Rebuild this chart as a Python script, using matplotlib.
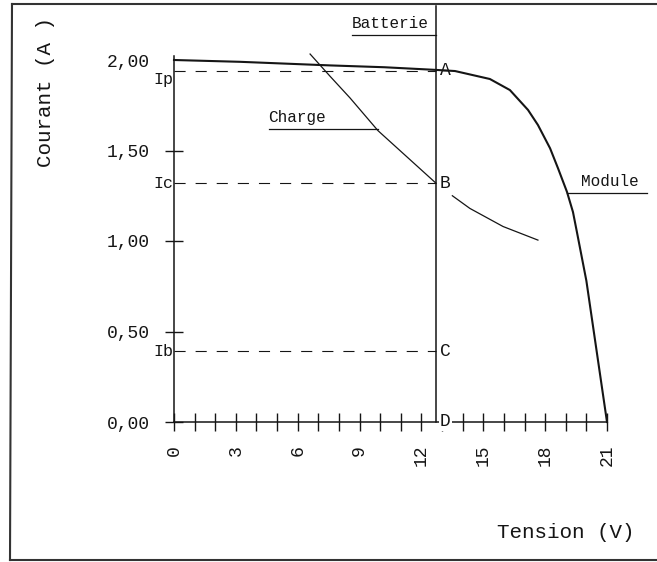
import matplotlib
matplotlib.use("Agg")
import matplotlib.pyplot as plt
from matplotlib.ticker import FuncFormatter, FixedLocator

# ---------------- data ----------------
module_v = [0.0, 3.2, 7.6, 10.2, 12.75, 13.63, 15.32, 16.29, 17.17, 17.65, 18.24, 18.62,
            19.06, 19.35, 19.54, 20.0, 21.0]
module_i = [2.00, 1.99, 1.97, 1.96, 1.945, 1.939, 1.895, 1.834, 1.724, 1.641, 1.512, 1.403,
            1.271, 1.160, 1.050, 0.78, 0.0]

charge1_v = [6.6, 7.57, 8.54, 9.89, 12.7]
charge1_i = [2.033, 1.91, 1.79, 1.61, 1.32]
charge2_v = [13.5, 14.35, 15.96, 17.65]
charge2_i = [1.25, 1.18, 1.08, 1.005]

v_batt = 12.7
levels = {"Ip": 1.94, "Ic": 1.32, "Ib": 0.39}
points = {"A": 1.94, "B": 1.32, "C": 0.39, "D": 0.0}

x_ticks_major = [0, 3, 6, 9, 12, 15, 18, 21]
x_ticks_minor = list(range(0, 22))
y_ticks = [0.0, 0.5, 1.0, 1.5, 2.0]

# ---------------- layout (pixel anchors) ----------------
W, H = 657, 562
X0PX, X21PX = 174, 607
Y0PX, Y2PX = 422, 60
sx = (X21PX - X0PX) / 21.0
sy = (Y0PX - Y2PX) / 2.0

FONT = "Liberation Mono"
plt.rcParams["font.family"] = [FONT, "DejaVu Sans Mono"]

fig = plt.figure(figsize=(W / 100, H / 100), dpi=100)
ax = fig.add_axes([0, 0, 1, 1])
ax.set_xlim(-X0PX / sx, (W - X0PX) / sx)
ax.set_ylim((Y0PX - H) / sy, Y0PX / sy)
ax.patch.set_alpha(0)

ink = "#151515"

for s in ["top", "right"]:
    ax.spines[s].set_visible(False)
ax.spines["left"].set_position(("data", 0))
ax.spines["bottom"].set_position(("data", 0))
ax.spines["left"].set_bounds(0, 2.02)
ax.spines["bottom"].set_bounds(0, 21)
for s in ["left", "bottom"]:
    ax.spines[s].set_linewidth(1.1)
    ax.spines[s].set_color(ink)

ax.xaxis.set_major_locator(FixedLocator(x_ticks_major))
ax.xaxis.set_minor_locator(FixedLocator(x_ticks_minor))
ax.xaxis.set_major_formatter(FuncFormatter(lambda v, p: f"{int(round(v))}"))
ax.yaxis.set_major_locator(FixedLocator(y_ticks))
ax.yaxis.set_minor_locator(FixedLocator([]))
ax.yaxis.set_major_formatter(FuncFormatter(lambda v, p: f"{v:.2f}".replace(".", ",")))

ax.tick_params(axis="x", which="both", direction="inout", length=13, width=1.0,
               color=ink, labelsize=13, pad=10, labelrotation=90)
ax.tick_params(axis="y", which="both", direction="inout", length=13, width=1.0,
               color=ink, labelsize=13, pad=11)
ax.yaxis.get_major_ticks()[-1].tick1line.set_visible(False)
for lab in ax.get_xticklabels() + ax.get_yticklabels():
    lab.set_color(ink)

# curves
ax.plot(module_v, module_i, color=ink, lw=1.5, solid_joinstyle="round")
ax.plot(charge1_v, charge1_i, color=ink, lw=0.9)
ax.plot(charge2_v, charge2_i, color=ink, lw=0.9)

# battery vertical line
ax.plot([v_batt, v_batt], [0, (Y0PX - 6) / sy], color=ink, lw=1.1)

# dashed levels
dash = (0, (10, 9))
for name, val in levels.items():
    ax.plot([0, v_batt], [val, val], color=ink, lw=0.8, linestyle=dash)
    yoff = -0.05 if name == "Ip" else 0.0
    ax.text(-0.05, val + yoff, name, ha="right", va="center", fontsize=12, color=ink)

for name, val in points.items():
    ax.text(v_batt + 0.2, val, name, ha="left", va="center", fontsize=13, color=ink,
            bbox=dict(boxstyle="square,pad=0.05", fc="white", ec="none") if name == "D" else None)

def px2x(px):
    return (px - X0PX) / sx

def py2y(py):
    return (Y0PX - py) / sy

# Batterie
ax.plot([px2x(352), v_batt], [py2y(35)] * 2, color=ink, lw=0.9)
ax.text(px2x(390), py2y(35) + 0.02, "Batterie", ha="center", va="bottom", fontsize=11.5, color=ink)
# Charge
ax.plot([px2x(269), 9.89], [py2y(129)] * 2, color=ink, lw=0.9)
ax.text(px2x(297), py2y(129) + 0.02, "Charge", ha="center", va="bottom", fontsize=11.5, color=ink)
# Module
ax.plot([19.06, px2x(647)], [py2y(193)] * 2, color=ink, lw=0.9)
ax.text(px2x(610), py2y(193) + 0.02, "Module", ha="center", va="bottom", fontsize=11.5, color=ink)

# axis titles
ax.text(px2x(566), py2y(533), "Tension (V)", ha="center", va="center", fontsize=15, color=ink)
ax.text(px2x(45), py2y(92), "Courant (A )", ha="center", va="center", fontsize=15,
        rotation=90, color=ink)

# outer frame (scanned box, no right side)
fx = lambda px: px / W
fy = lambda py: 1 - py / H
ax.plot([fx(12), fx(W)], [fy(4), fy(4)], transform=ax.transAxes, color="#333", lw=1.5, clip_on=False)
ax.plot([fx(12), fx(10)], [fy(4), fy(560)], transform=ax.transAxes, color="#333", lw=1.5, clip_on=False)
ax.plot([fx(10), fx(W)], [fy(560), fy(560)], transform=ax.transAxes, color="#333", lw=1.5, clip_on=False)

fig.savefig("out.png", dpi=100, facecolor="white")
